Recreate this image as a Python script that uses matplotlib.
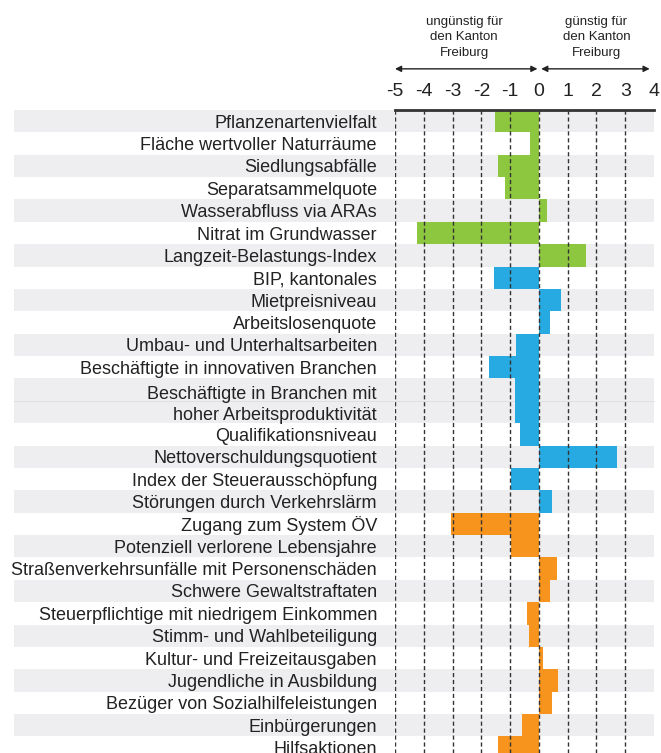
import matplotlib.pyplot as plt

plt.rcParams['font.family'] = ['Liberation Sans', 'DejaVu Sans']

labels = [
    'Pflanzenartenvielfalt', 'Fläche wertvoller Naturräume', 'Siedlungsabfälle',
    'Separatsammelquote', 'Wasserabfluss via ARAs', 'Nitrat im Grundwasser',
    'Langzeit-Belastungs-Index', 'BIP, kantonales', 'Mietpreisniveau',
    'Arbeitslosenquote', 'Umbau- und Unterhaltsarbeiten',
    'Beschäftigte in innovativen Branchen',
    'Beschäftigte in Branchen mit\nhoher Arbeitsproduktivität',
    'Qualifikationsniveau', 'Nettoverschuldungsquotient',
    'Index der Steuerausschöpfung', 'Störungen durch Verkehrslärm',
    'Zugang zum System ÖV', 'Potenziell verlorene Lebensjahre',
    'Straßenverkehrsunfälle mit Personenschäden', 'Schwere Gewaltstraftaten',
    'Steuerpflichtige mit niedrigem Einkommen', 'Stimm- und Wahlbeteiligung',
    'Kultur- und Freizeitausgaben', 'Jugendliche in Ausbildung',
    'Bezüger von Sozialhilfeleistungen', 'Einbürgerungen', 'Hilfsaktionen',
]
values = [-1.52, -0.31, -1.42, -1.18, 0.27, -4.25, 1.63, -1.56, 0.76, 0.38,
          -0.80, -1.73, -0.83, -0.66, 2.73, -0.97, 0.45, -3.06, -0.97, 0.62,
          0.38, -0.42, -0.35, 0.14, 0.66, 0.45, -0.59, -1.42]
# group: 0 umwelt, 1 wirtschaft, 2 gesellschaft
groups = [0]*7 + [1]*10 + [2]*11
rows = [1]*12 + [2] + [1]*15   # the two-line label takes two rows

colors = ['#8dc63f', '#27aae1', '#f7941d']
stripe = '#eeedf0'

fig = plt.figure(figsize=(6.61, 7.53), dpi=100)
ax = fig.add_axes([395/661, 0, 259/661, 643/753])

pos = []
top = 0
for h in rows:
    pos.append(top + h/2)
    top += h

for i, (p, h) in enumerate(zip(pos, rows)):
    if i % 2 == 0:
        ax.axhspan(p - h/2, p + h/2, xmin=-1.47, xmax=1, color=stripe,
                   zorder=0, clip_on=False, lw=0)
    if h == 2:
        # faint divider inside the double row
        ax.axhline(p, xmin=-1.47, xmax=1, color='#dddde0', lw=0.6,
                   zorder=1, clip_on=False)

ax.barh(pos, values, height=rows, color=[colors[g] for g in groups],
        zorder=2, lw=0)

ticks = list(range(-5, 5))
ax.vlines(ticks[:-1], 0, 40, colors='#333333', linestyles=(0, (3, 2)),
          lw=1, zorder=3)

ax.set_xlim(-5, 4)
ax.set_ylim(643/22.37, 0)
ax.set_xticks(ticks)
ax.set_xticklabels([str(t) for t in ticks], fontsize=14, color='#222222')
ax.xaxis.set_ticks_position('top')
ax.tick_params(axis='x', length=0, pad=7)
ax.set_yticks(pos)
ax.set_yticklabels(labels, fontsize=13, color='#222222', linespacing=1.33)
ax.tick_params(axis='y', length=0, pad=13)

for s in ['left', 'right', 'bottom']:
    ax.spines[s].set_visible(False)
ax.spines['top'].set_linewidth(2)
ax.spines['top'].set_color('#333333')

arrow = dict(arrowstyle='<|-|>', color='#222222', lw=1,
             mutation_scale=9, shrinkA=0, shrinkB=0)
ax.annotate('', xy=(-5, 1.064), xytext=(-0.05, 1.064),
            xycoords=('data', 'axes fraction'), arrowprops=arrow)
ax.annotate('', xy=(0.08, 1.064), xytext=(3.85, 1.064),
            xycoords=('data', 'axes fraction'), arrowprops=arrow)

ax.text(-2.6, 1.113, 'ungünstig für\nden Kanton\nFreiburg', ha='center',
        va='center', fontsize=9.5, color='#222222', linespacing=1.4,
        transform=ax.get_xaxis_transform())
ax.text(2.0, 1.113, 'günstig für\nden Kanton\nFreiburg', ha='center',
        va='center', fontsize=9.5, color='#222222', linespacing=1.4,
        transform=ax.get_xaxis_transform())

fig.savefig('out.png', dpi=100)
